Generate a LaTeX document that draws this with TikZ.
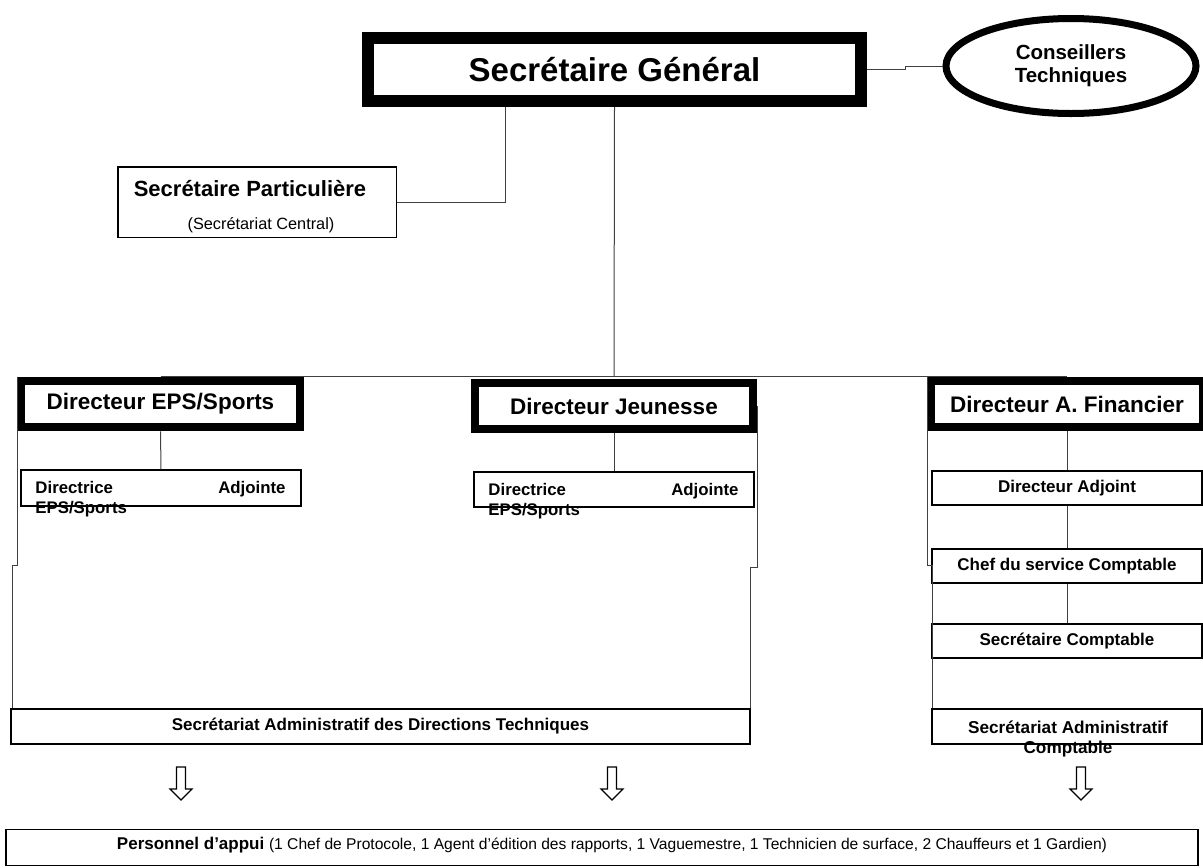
\documentclass[tikz,border=0pt]{standalone}
\usepackage{fontspec}
\setmainfont{Liberation Sans}
\usetikzlibrary{shapes.geometric}

\begin{document}
\begin{tikzpicture}[x=1pt,y=-1pt,
  link/.style={draw=black!75,line width=1},
  topbox/.style={draw,line width=12,minimum width=493,minimum height=63,inner sep=0,font=\fontsize{33}{38}\selectfont\bfseries},
  dirbox/.style={draw,line width=8,minimum height=46.5,inner sep=0,font=\fontsize{22.5}{26}\selectfont\bfseries},
  unitbox/.style={draw,line width=1.5,minimum height=34,inner sep=0,font=\fontsize{17}{20}\selectfont\bfseries},
  spill/.style={inner sep=0,font=\fontsize{16.8}{20}\selectfont\bfseries},
  hollow/.style={draw,line width=1.1}]
\path[use as bounding box] (0,0) rectangle (1203,868);
% sommet
\node[topbox] (sg) at (614.5,69.5) {Secrétaire Général};
\node[ellipse,draw,line width=7,minimum width=250,minimum height=95,inner sep=0,align=center,font=\fontsize{20.5}{23}\selectfont\bfseries] (conseil) at (1071,66) {Conseillers\\Techniques};
\draw[link] (sg.east) -- ++(38,0) |- (conseil.west);
\node[draw,line width=1.5,minimum width=278.5,minimum height=70.5] (sp) at (257,202) {};
\node[inner sep=0,font=\fontsize{22}{26}\selectfont\bfseries] (sptitle) at (250,189) {Secrétaire Particulière};
\node[inner sep=0,font=\fontsize{16.3}{19}\selectfont] (spsub) at (261,225) {(Secrétariat Central)};
\coordinate (spjoin) at (505,202);
\draw[link] (sg.south -| spjoin) -- (spjoin) -- (sp.east);
% directions
\node[dirbox,minimum width=279] (deps) at (160.5,404) {Directeur EPS/Sports};
\node[dirbox,minimum width=278.5] (dj) at (614,406) {Directeur Jeunesse};
\node[dirbox,minimum width=272] (daf) at (1067,404) {Directeur A. Financier};
\coordinate (hub) at (614,376);
\draw[link] (sg.south) -- (hub);
\draw[link] (deps.north |- hub) -- (daf.north |- hub);
% adjointes
\node[unitbox,minimum width=280,minimum height=36] (adj1) at (161,488) {};
\node[spill,text width=250,align=left,anchor=north west] (adj1txt) at ([shift={(15,12)}]adj1.north west) {Directrice\hfill Adjointe\\EPS/Sports};
\node[unitbox,minimum width=280,minimum height=35] (adj2) at (614,489.5) {};
\node[spill,text width=250,align=left,anchor=north west] (adj2txt) at ([shift={(15,12)}]adj2.north west) {Directrice\hfill Adjointe\\EPS/Sports};
\draw[link] (deps.south) -- (adj1.north);
\draw[link] (dj.south) -- (adj2.north);
% finances
\node[unitbox,minimum width=270] (dadj) at (1067,488) {Directeur Adjoint};
\node[unitbox,minimum width=270] (chef) at (1067,566) {Chef du service Comptable};
\node[unitbox,minimum width=270] (scomp) at (1067,641) {Secrétaire Comptable};
\node[unitbox,minimum width=270,minimum height=35] (sacomp) at (1067,726.5) {};
\node[spill,font=\fontsize{17.2}{20}\selectfont\bfseries,align=center,anchor=north] (sacomptxt) at (1068,721) {Secrétariat Administratif\\Comptable};
\draw[link] (daf.south) -- (dadj.north);
\draw[link] (dadj.south) -- (chef.north);
\draw[link] (chef.south) -- (scomp.north);
% secretariat technique
\node[unitbox,minimum width=739,minimum height=35] (sadt) at (380.5,726.5) {Secrétariat Administratif des Directions Techniques};
\coordinate (jogL) at (12,565);
\coordinate (jogR) at (750,567);
\coordinate (jogF) at (932,565);
\draw[link] (deps.north west) |- (jogL) -- (jogL |- sadt.north);
\draw[link] (dj.east) |- (jogR) -- (jogR |- sadt.north);
\draw[link] (daf.north west) |- (jogF) -- (jogF |- sacomp.north);
% appui
\foreach \ax in {181,612,1081}
  \draw[hollow] (\ax-4.5,767) -- (\ax+4.5,767) -- (\ax+4.5,789) -- (\ax+11,789) -- (\ax,800) -- (\ax-11,789) -- (\ax-4.5,789) -- cycle;
\node[draw,line width=1.5,minimum width=1192,minimum height=36] (appui) at (602,847.5) {};
\node[inner sep=0] (appuitxt) at (612,845) {\fontsize{17}{20}\selectfont\bfseries Personnel d’appui \fontsize{15.6}{18}\selectfont\mdseries(1 Chef de Protocole, 1 Agent d’édition des rapports, 1 Vaguemestre, 1 Technicien de surface, 2 Chauffeurs et 1 Gardien)};
\end{tikzpicture}
\end{document}
